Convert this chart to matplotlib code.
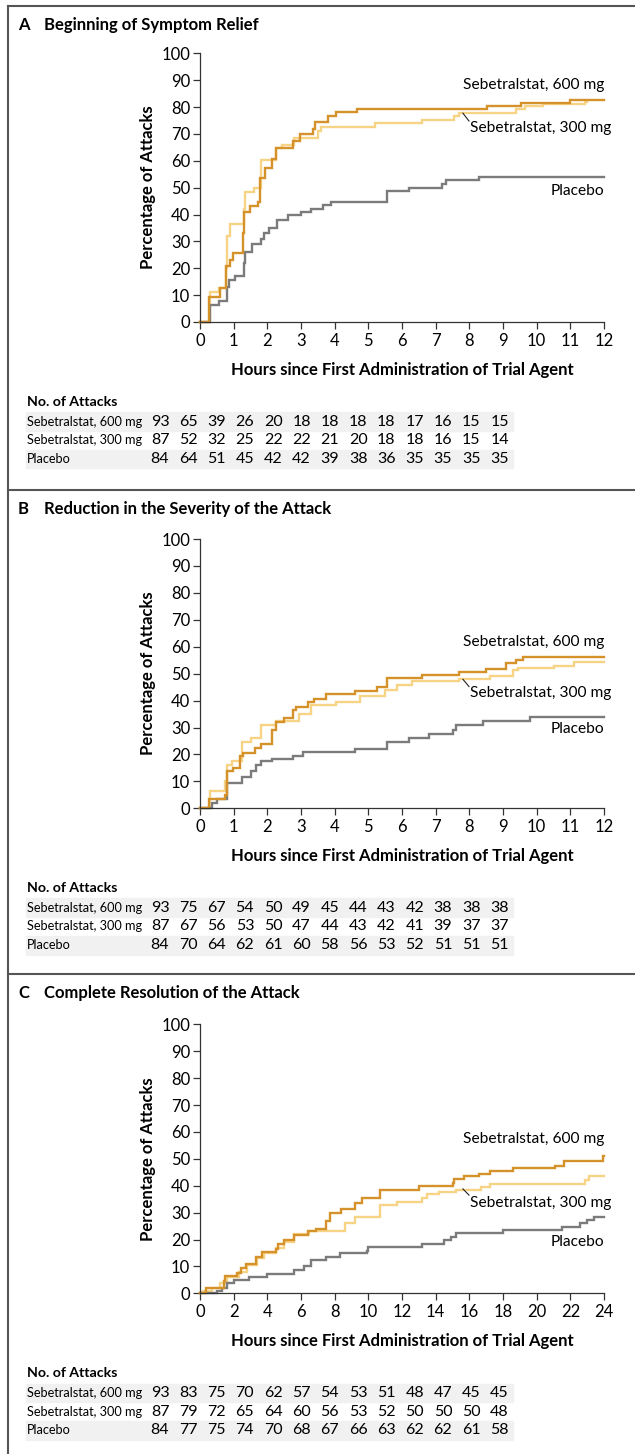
import matplotlib.pyplot as plt

plt.rcParams["font.family"] = ["Lato", "DejaVu Sans"]
plt.rcParams["font.size"] = 10

C600 = "#d6922a"
C300 = "#f7d386"
CPLA = "#7b7b7b"

# ---- Panel A: Beginning of Symptom Relief (hours 0-12)
a600_t = [0, 0.28, 0.59, 0.77, 0.89, 0.97, 1.29, 1.32, 1.48, 1.73, 1.78, 1.93, 2.13, 2.26,
          2.77, 2.97, 3.36, 3.41, 3.81, 4.05, 4.65, 8.51, 9.54, 10.98, 12]
a600_y = [0, 9.2, 12.5, 20.8, 23, 25.8, 33, 41, 43.3, 44.5, 53.5, 57.2, 60.5, 64.6,
          67.5, 69.8, 72, 74.5, 76.5, 78, 79.3, 80.5, 81.6, 82.5, 82.5]
a300_t = [0, 0.3, 0.55, 0.78, 0.8, 0.9, 1.3, 1.35, 1.6, 1.8, 2.25, 2.45, 2.8, 3.5, 3.6,
          5.2, 6.6, 7.55, 7.7, 9.4, 9.65, 10.2, 11.45, 11.5]
a300_y = [0, 11, 12.5, 20, 32, 36.6, 42, 48.5, 50, 60.3, 64.6, 66, 68.5, 71, 72.6,
          74, 75, 76.5, 77.8, 79.3, 80.5, 81, 82, 82]
apla_t = [0, 0.3, 0.55, 0.8, 0.85, 1.05, 1.3, 1.35, 1.55, 1.8, 1.9, 2.05, 2.3, 2.6, 3.0,
          3.3, 3.65, 3.9, 5.55, 6.2, 7.2, 7.3, 8.3, 12]
apla_y = [0, 6.5, 7.8, 13, 15.6, 17, 22, 26, 29, 31, 33, 35, 38, 39.7, 41,
          42.2, 43.6, 44.6, 48.7, 50, 51.5, 52.9, 54.1, 54.1]

# ---- Panel B: Reduction in the Severity of the Attack (hours 0-12)
b600_t = [0, 0.28, 0.75, 0.8, 0.97, 1.2, 1.28, 1.62, 1.8, 2.15, 2.25, 2.5, 2.75, 2.85,
          3.2, 3.4, 3.75, 4.6, 5.25, 5.55, 6.6, 7.7, 8.5, 9.1, 9.4, 9.6, 12]
b600_y = [0, 3.5, 5, 14, 15, 19.5, 20.5, 22.5, 24, 29, 32, 33.5, 36.5, 37.5,
          39.5, 40.5, 42.5, 43.7, 45, 48.5, 49.5, 50.5, 51.6, 54, 55, 56, 56]
b300_t = [0, 0.3, 0.75, 0.8, 0.95, 1.25, 1.5, 1.8, 2.25, 2.95, 3.3, 4.05, 4.75, 5.5,
          5.85, 6.3, 7.7, 8.6, 9.3, 9.45, 10.5, 11.1, 12]
b300_y = [0, 6.3, 10, 16, 17.5, 24.5, 26, 31, 32.5, 35, 38.5, 39.5, 41.8, 44,
          45.8, 47.3, 48, 49, 51.5, 52, 53, 54.5, 54.5]
bpla_t = [0, 0.35, 0.5, 0.8, 1.25, 1.5, 1.65, 1.8, 2.15, 2.75, 3.05, 4.6, 5.55, 6.2,
          6.8, 7.5, 7.6, 8.4, 9.8, 12]
bpla_y = [0, 2, 3.5, 9.3, 11.5, 14, 16, 17.5, 18.2, 19.6, 20.8, 22.2, 24.5, 26,
          27.5, 29, 31, 32.5, 33.8, 33.8]

# ---- Panel C: Complete Resolution of the Attack (hours 0-24)
c600_t = [0, 0.35, 1.4, 1.5, 2.2, 2.45, 2.75, 3.3, 3.7, 4.5, 4.65, 5.0, 5.6, 6.4, 6.9,
          7.5, 7.7, 8.4, 9.2, 9.6, 10.7, 13, 15, 15.1, 15.7, 16.6, 17.2, 18.6,
          21.1, 21.6, 23.95, 24]
c600_y = [0, 2, 4.5, 6.5, 7.7, 9.3, 11, 13.5, 15.5, 16.5, 18.5, 20, 21.5, 23, 24,
          27, 30, 31.2, 33.5, 35.5, 38.5, 40, 41, 42.5, 43.5, 44.5, 45.5, 46.5,
          47.5, 49.2, 51, 51]
c300_t = [0, 0.2, 0.7, 1.2, 1.6, 2.3, 2.8, 3.4, 3.8, 4.5, 5.0, 5.6, 6.5, 8.6, 9.2,
          10.7, 11.7, 13.2, 13.5, 14.2, 15.2, 16.7, 17.2, 22.9, 23.1, 24]
c300_y = [0, 1, 2, 4, 6, 8, 10.5, 13, 15, 17, 19, 22, 23.3, 26, 28.5,
          33, 33.8, 35.5, 36.8, 37.5, 38.5, 39.5, 40.5, 42, 43.5, 43.5]
cpla_t = [0, 1.0, 1.3, 1.6, 2.0, 2.9, 4.0, 5.6, 6.2, 6.6, 7.5, 8.3, 9.9, 10.0, 13.2,
          14.5, 14.9, 15.2, 18.0, 21.5, 22.6, 23.0, 23.4, 24]
cpla_y = [0, 1, 2, 4, 5, 6, 7.3, 8.5, 10, 12.5, 13.5, 14.8, 15.8, 17.2, 18.3,
          19.8, 21, 22.3, 23.5, 24.6, 26, 27.3, 28.5, 28.5]

row_names = ["Sebetralstat, 600 mg", "Sebetralstat, 300 mg", "Placebo"]
a_risk = [[93, 65, 39, 26, 20, 18, 18, 18, 18, 17, 16, 15, 15],
          [87, 52, 32, 25, 22, 22, 21, 20, 18, 18, 16, 15, 14],
          [84, 64, 51, 45, 42, 42, 39, 38, 36, 35, 35, 35, 35]]
b_risk = [[93, 75, 67, 54, 50, 49, 45, 44, 43, 42, 38, 38, 38],
          [87, 67, 56, 53, 50, 47, 44, 43, 42, 41, 39, 37, 37],
          [84, 70, 64, 62, 61, 60, 58, 56, 53, 52, 51, 51, 51]]
c_risk = [[93, 83, 75, 70, 62, 57, 54, 53, 51, 48, 47, 45, 45],
          [87, 79, 72, 65, 64, 60, 56, 53, 52, 50, 50, 50, 48],
          [84, 77, 75, 74, 70, 68, 67, 66, 63, 62, 62, 61, 58]]

W, H = 635, 1454
fig = plt.figure(figsize=(W / 100, H / 100), dpi=100)


def fx(px):
    return px / W


def fy(py):
    return 1 - py / H


panels = [
    dict(letter="A", title="Beginning of Symptom Relief", top=53.3, bottom=322, xmax=12,
         xstep=1, series=[(a300_t, a300_y, C300), (apla_t, apla_y, CPLA), (a600_t, a600_y, C600)],
         lab600=88.2, lab300=72.1, labpla=48.9, lead=(77.7, 74.8), risk=a_risk, y0=0),
    dict(letter="B", title="Reduction in the Severity of the Attack", top=539, bottom=808.3,
         xmax=12, xstep=1,
         series=[(b300_t, b300_y, C300), (bpla_t, bpla_y, CPLA), (b600_t, b600_y, C600)],
         lab600=61.6, lab300=42.7, labpla=29.3, lead=(47.9, 45.2), risk=b_risk, y0=484),
    dict(letter="C", title="Complete Resolution of the Attack", top=1024.3, bottom=1293.3,
         xmax=24, xstep=2,
         series=[(c300_t, c300_y, C300), (cpla_t, cpla_y, CPLA), (c600_t, c600_y, C600)],
         lab600=57.2, lab300=33.5, labpla=19.2, lead=(38.8, 36.5), risk=c_risk, y0=968),
]

for p in panels:
    ax = fig.add_axes([fx(200), fy(p["bottom"]), fx(404), (p["bottom"] - p["top"]) / H])
    for t, y, c in p["series"]:
        ax.step(t, y, where="post", color=c, lw=1.7, solid_joinstyle="miter", clip_on=False)
    ax.set_xlim(0, p["xmax"])
    ax.set_ylim(0, 100)
    ax.set_xticks(range(0, p["xmax"] + 1, p["xstep"]))
    ax.set_yticks(range(0, 101, 10))
    ax.spines["top"].set_visible(False)
    ax.spines["right"].set_visible(False)
    for s in ("left", "bottom"):
        ax.spines[s].set_color("#333333")
        ax.spines[s].set_linewidth(0.9)
    ax.tick_params(length=5, width=0.9, color="#333333", labelsize=12, pad=2)
    ax.tick_params(axis="x", pad=3)
    ax.set_xlabel("Hours since First Administration of Trial Agent", fontweight="bold",
                  fontsize=12, labelpad=9)
    ax.set_ylabel("Percentage of Attacks", fontweight="bold", fontsize=12, labelpad=4)

    xm = p["xmax"]
    ax.text(xm, p["lab600"], "Sebetralstat, 600 mg", ha="right", va="center", fontsize=11.2)
    ax.text(xm * 8.03 / 12, p["lab300"], "Sebetralstat, 300 mg", ha="left", va="center",
            fontsize=11.2)
    ax.plot([xm * 7.81 / 12, xm * 7.99 / 12], list(p["lead"]), color="#222222", lw=0.8)
    ax.text(xm, p["labpla"], "Placebo", ha="right", va="center", fontsize=11.2)

    # panel heading
    y0 = p["y0"]
    fig.text(fx(18), fy(y0 + 25), p["letter"], fontsize=12, fontweight="bold", va="center")
    fig.text(fx(44), fy(y0 + 25), p["title"], fontsize=12, fontweight="bold", va="center")

    # number at risk table
    base = p["bottom"]
    fig.text(fx(27), fy(base + 80), "No. of Attacks", fontsize=10.2, fontweight="bold",
             va="center")
    for r, (name, vals) in enumerate(zip(row_names, p["risk"])):
        yc = base + 99.5 + r * 18.7
        if r != 1:
            fig.patches.append(plt.Rectangle((fx(26), fy(yc + 9.3)), fx(487), 18.6 / H,
                                             transform=fig.transFigure, color="#f1f1f1",
                                             zorder=0))
        fig.text(fx(27), fy(yc), name, fontsize=9.2, va="center")
        for i, v in enumerate(vals):
            fig.text(fx(160 + 28.3 * i), fy(yc), str(v), fontsize=11.5, va="center",
                     ha="center")

# panel frames
frame = dict(color="#555555", lw=1.5, transform=fig.transFigure)
fig.add_artist(plt.Line2D([fx(8), fx(8)], [fy(6), 0], **frame))
fig.add_artist(plt.Line2D([fx(8), 1], [fy(6), fy(6)], **frame))
fig.add_artist(plt.Line2D([fx(8), 1], [fy(490), fy(490)], **frame))
fig.add_artist(plt.Line2D([fx(8), 1], [fy(974), fy(974)], **frame))

fig.savefig("out.png", dpi=100)
